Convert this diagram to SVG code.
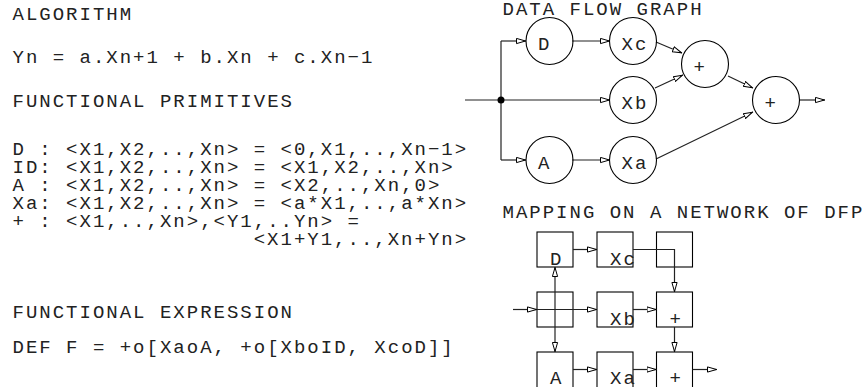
<svg xmlns="http://www.w3.org/2000/svg" width="867" height="387" viewBox="0 0 867 387">
  <style>
    .t { font-family: "Liberation Mono", "DejaVu Sans Mono", monospace; font-size: 19px; letter-spacing: 2px; fill: #222; }
    .n { fill: none; stroke: #000; stroke-width: 1.1; }
    .c { fill: none; stroke: #222; stroke-width: 1.2; }
    .a { marker-end: url(#ah); }
  </style>
  <defs>
    <marker id="ah" viewBox="0 0 10 7" refX="10" refY="3.5" markerWidth="10" markerHeight="7" markerUnits="userSpaceOnUse" orient="auto">
      <path d="M0.5,0.9 L9.5,3.5 L0.5,6.1 z" fill="#fff" stroke="#000" stroke-width="1"/>
    </marker>
  </defs>
  <rect width="867" height="387" fill="#fff"/>

  <!-- algorithm description -->
  <g id="text-left" class="t">
    <text x="12.5" y="20">ALGORITHM</text>
    <text x="12.5" y="63">Yn = a.Xn+1 + b.Xn + c.Xn−1</text>
    <text x="12.5" y="107">FUNCTIONAL PRIMITIVES</text>
    <text x="12.5" y="155">D : &lt;X1,X2,..,Xn&gt; = &lt;0,X1,..,Xn−1&gt;</text>
    <text x="12.5" y="173">ID: &lt;X1,X2,..,Xn&gt; = &lt;X1,X2,..,Xn&gt;</text>
    <text x="12.5" y="191">A : &lt;X1,X2,..,Xn&gt; = &lt;X2,..,Xn,0&gt;</text>
    <text x="12.5" y="209">Xa: &lt;X1,X2,..,Xn&gt; = &lt;a*X1,..,a*Xn&gt;</text>
    <text x="12.5" y="227">+ : &lt;X1,..,Xn&gt;,&lt;Y1,..Yn&gt; =</text>
    <text x="253.7" y="245">&lt;X1+Y1,..,Xn+Yn&gt;</text>
    <text x="12.5" y="318">FUNCTIONAL EXPRESSION</text>
    <text x="12.5" y="353">DEF F = +o[XaoA, +o[XboID, XcoD]]</text>
  </g>

  <!-- data flow graph -->
  <text class="t" x="502.5" y="15">DATA FLOW GRAPH</text>
  <g id="dfg-connectors" class="c">
    <path d="M465,100 H501"/>
    <path d="M501,41 V160"/>
    <path class="a" d="M501,41 H526"/>
    <path class="a" d="M501,100 H610"/>
    <path class="a" d="M501,160 H526"/>
    <path class="a" d="M572,41 H610"/>
    <path class="a" d="M572,160 H610"/>
    <path class="a" d="M656,42 L682,53"/>
    <path class="a" d="M655,88 L683,75"/>
    <path class="a" d="M728,76 L753,88"/>
    <path class="a" d="M656,159 L753,112"/>
    <path class="a" d="M800,100 H825"/>
    <circle cx="501" cy="100" r="3.5" fill="#000" stroke="none"/>
  </g>
  <g id="dfg-D"><circle class="n" cx="549.5" cy="41" r="23.5"/><text class="t" x="538" y="49.5">D</text></g>
  <g id="dfg-Xc"><circle class="n" cx="633" cy="41" r="23.5"/><text class="t" x="621.5" y="49.5">Xc</text></g>
  <g id="dfg-add1"><circle class="n" cx="705" cy="64" r="23.5"/><text class="t" x="693.5" y="72.5">+</text></g>
  <g id="dfg-Xb"><circle class="n" cx="633" cy="100" r="23.5"/><text class="t" x="621.5" y="108.5">Xb</text></g>
  <g id="dfg-add2"><circle class="n" cx="776" cy="100" r="23.5"/><text class="t" x="764.5" y="108.5">+</text></g>
  <g id="dfg-A"><circle class="n" cx="549.5" cy="160" r="23.5"/><text class="t" x="538" y="168.5">A</text></g>
  <g id="dfg-Xa"><circle class="n" cx="633" cy="160" r="23.5"/><text class="t" x="621.5" y="168.5">Xa</text></g>

  <!-- mapping on a processor network -->
  <text class="t" x="502.5" y="218">MAPPING ON A NETWORK OF DFP</text>
  <g id="net-r1c1"><rect class="n" x="537" y="232" width="36" height="35"/><text class="t" x="550" y="264.5">D</text></g>
  <g id="net-r1c2"><rect class="n" x="597" y="232" width="36" height="35"/><text class="t" x="610" y="264.5">Xc</text></g>
  <g id="net-r1c3"><rect class="n" x="656.5" y="232" width="36" height="35"/></g>
  <g id="net-r2c1"><rect class="n" x="537" y="292" width="36" height="35"/></g>
  <g id="net-r2c2"><rect class="n" x="597" y="292" width="36" height="35"/><text class="t" x="610" y="324.5">Xb</text></g>
  <g id="net-r2c3"><rect class="n" x="656.5" y="292" width="36" height="35"/><text class="t" x="669.5" y="324.5">+</text></g>
  <g id="net-r3c1"><rect class="n" x="537" y="352" width="36" height="40"/><text class="t" x="550" y="383.5">A</text></g>
  <g id="net-r3c2"><rect class="n" x="597" y="352" width="36" height="40"/><text class="t" x="610" y="383.5">Xa</text></g>
  <g id="net-r3c3"><rect class="n" x="656.5" y="352" width="36" height="40"/><text class="t" x="669.5" y="383.5">+</text></g>
  <g id="net-connectors" class="c">
    <path class="a" d="M573,249.5 H597"/>
    <path class="a" d="M633,249.5 H674.5 V292"/>
    <path class="a" d="M513,309.5 H537"/>
    <path class="a" d="M537,309.5 H597"/>
    <path class="a" d="M633,309.5 H656.5"/>
    <path class="a" d="M674.5,327 V352"/>
    <path class="a" d="M555,309.5 V267"/>
    <path class="a" d="M555,309.5 V352"/>
    <path class="a" d="M573,369.5 H597"/>
    <path class="a" d="M633,369.5 H656.5"/>
    <path class="a" d="M692.5,369.5 H717"/>
  </g>
</svg>
